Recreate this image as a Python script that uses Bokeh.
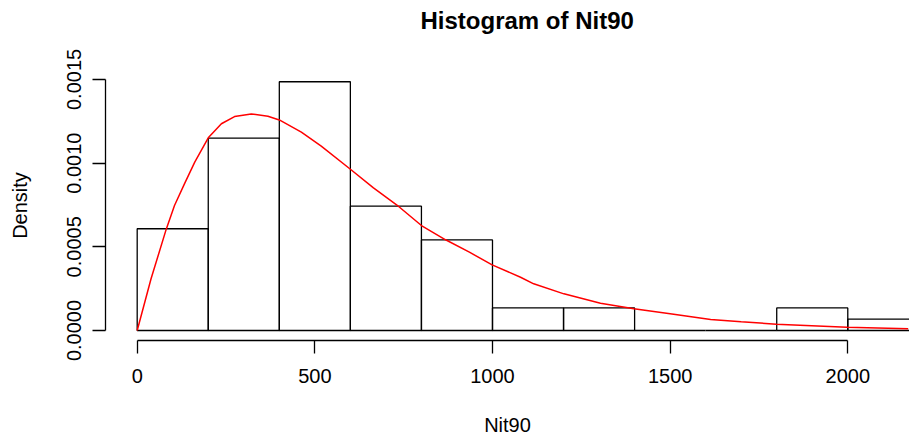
from bokeh.plotting import figure
from bokeh.models import Range1d, FixedTicker, PrintfTickFormatter, ColumnDataSource, Title
from bokeh.embed import file_html
from bokeh.resources import INLINE

# ---- data ----
bin_left = [0, 200, 400, 600, 800, 1000, 1200, 1400, 1600, 1800, 2000]
bin_right = [200, 400, 600, 800, 1000, 1200, 1400, 1600, 1800, 2000, 2200]
density = [0.000608, 0.001149, 0.001486, 0.000743, 0.000541, 0.000135,
           0.000135, 0.0, 0.0, 0.000135, 0.0000676]

curve_x = [0, 39, 82, 105, 133, 162, 200, 237, 274, 321, 368, 400, 462, 518,
           601, 665, 730, 800, 868, 935, 999, 1079, 1116, 1201, 1304, 1398,
           1500, 1614, 1700, 1799, 1998, 2170]
curve_y = [0.0, 0.000309, 0.000607, 0.000747, 0.000876, 0.001006, 0.001151,
           0.001235, 0.001278, 0.001294, 0.00128, 0.001258, 0.001185,
           0.001101, 0.000962, 0.000852, 0.000751, 0.000627, 0.000542,
           0.000468, 0.000392, 0.000318, 0.000279, 0.000219, 0.000163,
           0.00013, 0.0000998, 0.0000657, 0.000052, 0.0000376, 0.0000197,
           0.0000102]

x_ticks = [0, 500, 1000, 1500, 2000]
y_ticks = [0.0, 0.0005, 0.0010, 0.0015]

FONT = "Liberation Sans"

p = figure(width=909, height=439, output_backend="svg", toolbar_location=None,
           x_range=Range1d(-89.2, 2173.7), y_range=Range1d(-5.97e-5, 1.5532e-3),
           min_border_left=105, min_border_right=0, min_border_top=70,
           min_border_bottom=99)
p.outline_line_color = None
p.xgrid.visible = False
p.ygrid.visible = False
p.background_fill_color = "white"
p.border_fill_color = "white"

src = ColumnDataSource(dict(left=bin_left, right=bin_right, top=density,
                            bottom=[0.0] * len(density)))
p.quad(left="left", right="right", top="top", bottom="bottom", source=src,
       fill_color=None, line_color="black", line_width=1.3)

p.line(curve_x, curve_y, line_color="red", line_width=1.5)

# spacer between frame and title (keeps the title high without shrinking the frame)
spacer = Title(text=" ", text_font_size="10px", standoff=24)
p.add_layout(spacer, "above")

# title
p.title.text = "Histogram of Nit90"
p.title.text_font = FONT
p.title.text_font_size = "24px"
p.title.text_font_style = "bold"
p.title.text_color = "black"
p.title.align = "left"
p.title.offset = 315
p.title.standoff = 0

for ax in (p.xaxis[0], p.yaxis[0]):
    ax.axis_line_color = "black"
    ax.axis_line_width = 1.3
    ax.major_tick_line_color = "black"
    ax.major_tick_line_width = 1.3
    ax.major_tick_in = 0
    ax.major_tick_out = 13
    ax.minor_tick_line_color = None
    ax.major_label_text_font = FONT
    ax.major_label_text_font_size = "20px"
    ax.major_label_text_color = "black"
    ax.axis_label_text_font = FONT
    ax.axis_label_text_font_size = "20px"
    ax.axis_label_text_font_style = "normal"
    ax.axis_label_text_color = "black"

xa = p.xaxis[0]
xa.ticker = FixedTicker(ticks=x_ticks)
xa.formatter = PrintfTickFormatter(format="%d")
xa.bounds = (0, 2000)
xa.major_label_standoff = 15
xa.axis_label = "Nit90"
xa.axis_label_standoff = 28

ya = p.yaxis[0]
ya.ticker = FixedTicker(ticks=y_ticks)
ya.formatter = PrintfTickFormatter(format="%.4f")
ya.bounds = (0, 0.0015)
ya.major_label_orientation = "vertical"
ya.major_label_standoff = 11
ya.axis_label = "Density"
ya.axis_label_standoff = 34

open("out.html", "w").write(file_html(p, INLINE))
